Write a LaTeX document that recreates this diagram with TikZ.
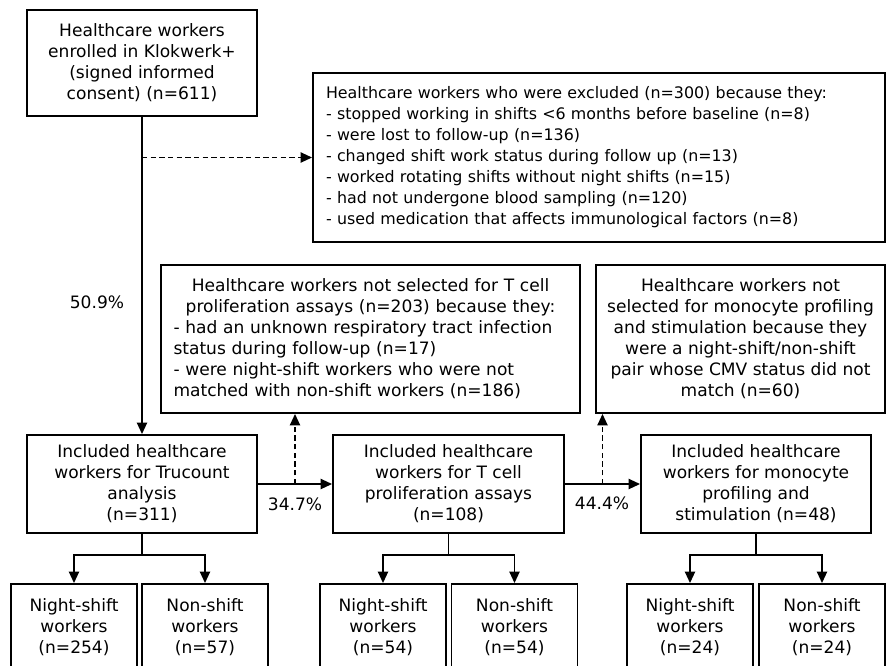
\documentclass[tikz,border=0pt]{standalone}
\usepackage{fontspec}
\setmainfont{DejaVu Sans}
\usepackage{tikz}
\usetikzlibrary{arrows.meta,calc}
\newdimen\px \px=0.75pt
\newcommand{\boxfont}{\fontsize{12.8pt}{15.75pt}\selectfont}
\newcommand{\exclfont}{\fontsize{11.9pt}{15.75pt}\selectfont}
\tikzset{
  flowbox/.style = {draw, line width=1.4pt, inner sep=0pt, font=\boxfont,
                    align=center},
  flowar/.style  = {-{Triangle[length=8.5pt,width=7.5pt]}, line width=1.4pt},
  exclar/.style  = {flowar, dash pattern=on 4pt off 2.5pt},
  pct/.style     = {font=\boxfont, inner sep=0pt}
}

\begin{document}
\begin{tikzpicture}[x=0.75pt,y=-0.75pt]
  \useasboundingbox (0,0) rectangle (887,665);
  % top row
  \node[flowbox, minimum width=230\px, minimum height=106\px] (enr) at (142,63)
        {Healthcare workers\\enrolled in Klokwerk+\\(signed informed\\consent) (n=611)};
  \node[flowbox, minimum width=572\px, minimum height=169\px,
        text width=546\px, align=left, font=\exclfont] (excl) at (599,157.5)
        {Healthcare workers who were excluded (n=300) because they:\\
         - stopped working in shifts <6 months before baseline (n=8)\\
         - were lost to follow-up (n=136)\\
         - changed shift work status during follow up (n=13)\\
         - worked rotating shifts without night shifts (n=15)\\
         - had not undergone blood sampling (n=120)\\
         - used medication that affects immunological factors (n=8)};
  % not selected
  \node[flowbox, minimum width=419\px, minimum height=148\px,
        text width=394\px, align=left] (tnot) at (370.5,339)
        {{\centering Healthcare workers not selected for T cell\\
          proliferation assays (n=203) because they:\par}
         - had an unknown respiratory tract infection\\
         status during follow-up (n=17)\\
         - were night-shift workers who were not\\
         matched with non-shift workers (n=186)};
  \node[flowbox, minimum width=289\px, minimum height=148\px] (mnot) at (740.5,339)
        {Healthcare workers not\\selected for monocyte profiling\\and stimulation because they\\
         were a night-shift/non-shift\\pair whose CMV status did not\\match (n=60)};
  % included
  \node[flowbox, minimum width=230\px, minimum height=98\px] (tru) at (142,484)
        {Included healthcare\\workers for Trucount\\analysis\\(n=311)};
  \node[flowbox, minimum width=231\px, minimum height=98\px] (tcell) at (448.5,484)
        {Included healthcare\\workers for T cell\\proliferation assays\\(n=108)};
  \node[flowbox, minimum width=230\px, minimum height=98\px] (mono) at (756,484)
        {Included healthcare\\workers for monocyte\\profiling and\\stimulation (n=48)};
  % groups
  \node[flowbox, minimum width=126\px, minimum height=86\px] (ns1) at (74,627)
        {Night-shift\\workers\\(n=254)};
  \node[flowbox, minimum width=126\px, minimum height=86\px] (nn1) at (205,627)
        {Non-shift\\workers\\(n=57)};
  \node[flowbox, minimum width=126\px, minimum height=86\px] (ns2) at (383,627)
        {Night-shift\\workers\\(n=54)};
  \node[flowbox, minimum width=126\px, minimum height=86\px] (nn2) at (514.5,627)
        {Non-shift\\workers\\(n=54)};
  \node[flowbox, minimum width=126\px, minimum height=86\px] (ns3) at (690,627)
        {Night-shift\\workers\\(n=24)};
  \node[flowbox, minimum width=126\px, minimum height=86\px] (nn3) at (822,627)
        {Non-shift\\workers\\(n=24)};

  % main flow
  \draw[flowar] (enr) -- (tru);
  \draw[exclar] (enr.south |- excl.west) -- (excl.west);
  \draw[flowar] (tru) -- (tcell);
  \draw[flowar] (tcell) -- (mono);
  \coordinate (d1) at ($(tru.east)!0.5!(tcell.west)$);
  \coordinate (d2) at ($(tcell.east)!0.5!(mono.west)$);
  \draw[exclar] (d1) -- (d1 |- tnot.south);
  \draw[exclar] (d2) -- (d2 |- mnot.south);
  \node[pct] (p1) at (97,302) {50.9\%};
  \node[pct] (p2) at (295,504) {34.7\%};
  \node[pct] (p3) at (602,503) {44.4\%};

  % split into groups
  \draw[flowar] (tru.south) -- ++(0,21) -| (ns1.north);
  \draw[flowar] (tru.south) -- ++(0,21) -| (nn1.north);
  \draw[flowar] (tcell.south) -- ++(0,21) -| (ns2.north);
  \draw[flowar] (tcell.south) -- ++(0,21) -| (nn2.north);
  \draw[flowar] (mono.south) -- ++(0,21) -| (ns3.north);
  \draw[flowar] (mono.south) -- ++(0,21) -| (nn3.north);
\end{tikzpicture}
\end{document}
